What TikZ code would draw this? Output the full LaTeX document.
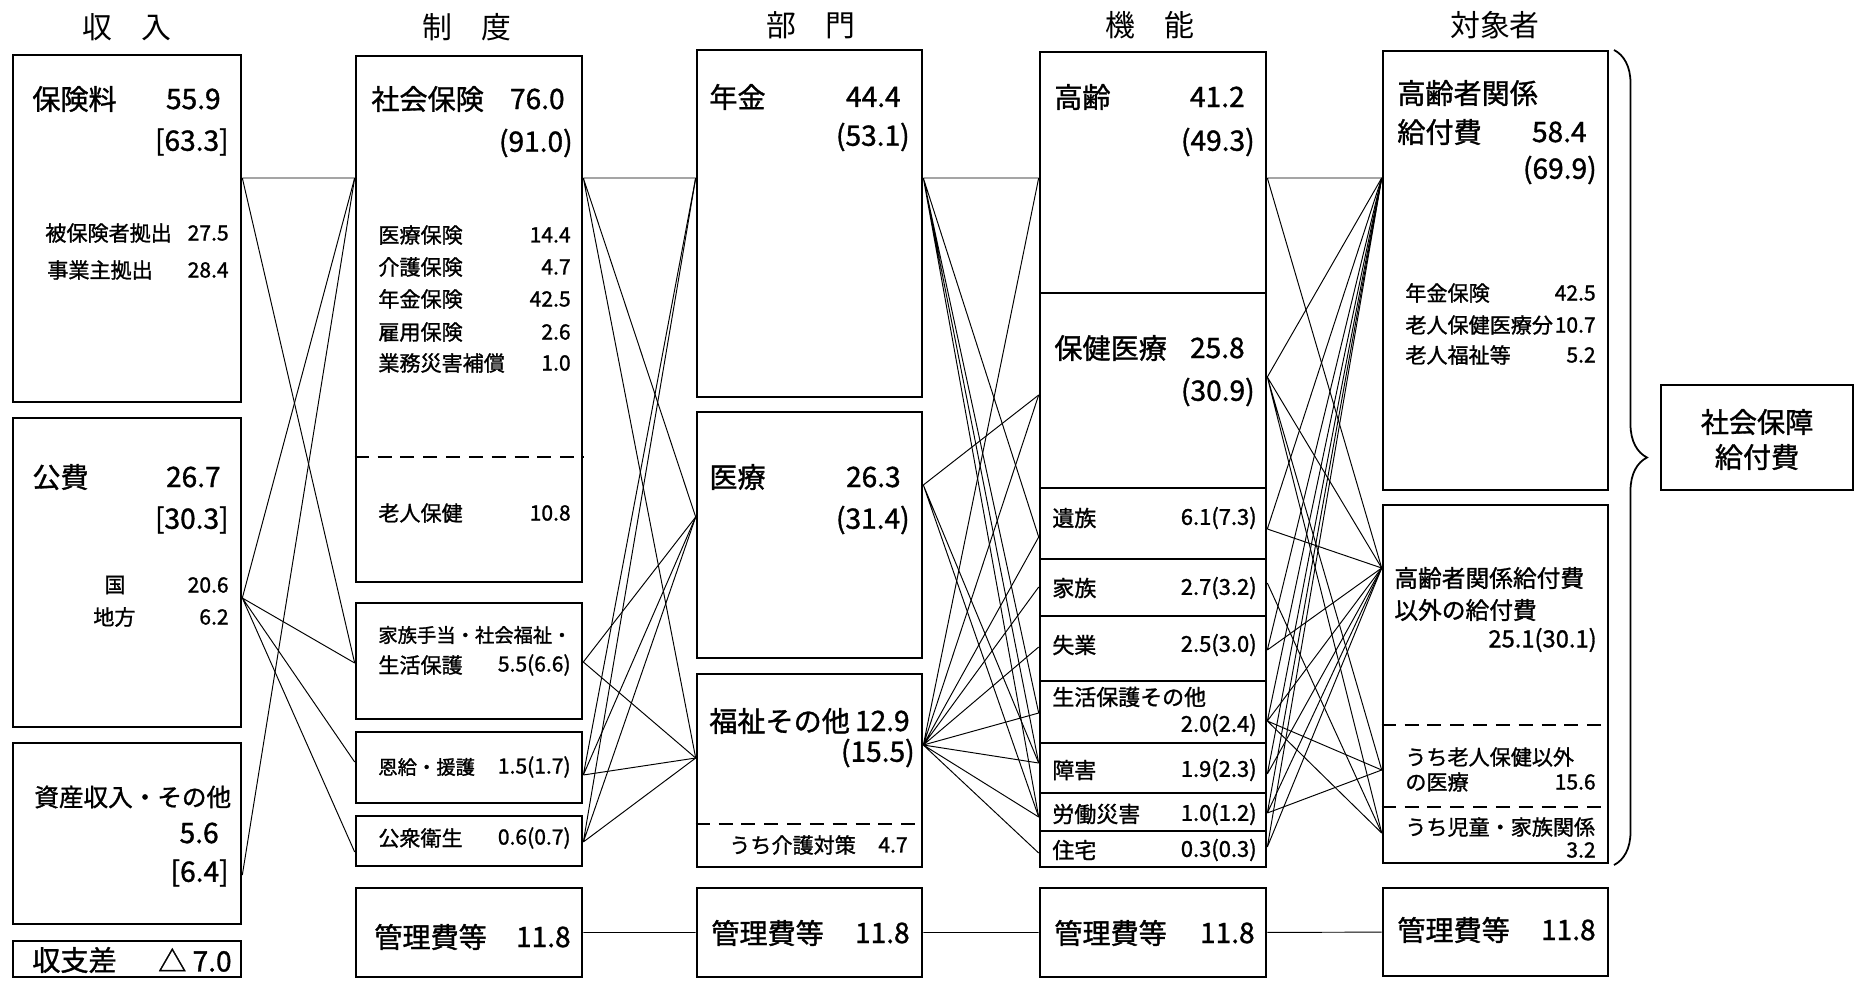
\documentclass[tikz,border=0pt]{standalone}
\usepackage{fontspec}
\setmainfont{Noto Sans CJK JP}
\newfontfamily\heavyfont[FakeBold=1.2]{Noto Sans CJK JP}
\usepackage{tikz}
\usetikzlibrary{fit,decorations.pathreplacing}

\begin{document}
\begin{tikzpicture}[x=0.02cm, y=-0.02cm,
    box/.style={draw, line width=1.5pt, inner sep=0pt},
    part/.style={line width=1.4pt, dash pattern=on 8pt off 5pt},
    link/.style={line width=0.55pt},
    head/.style={font=\fontsize{17}{20}\selectfont, inner sep=0pt},
    big/.style={font=\heavyfont\fontsize{16}{19}\selectfont, inner sep=0pt},
    mid/.style={font=\heavyfont\fontsize{12.5}{15}\selectfont, inner sep=0pt},
    small/.style={font=\heavyfont\fontsize{12}{14}\selectfont, inner sep=0pt},
    tiny/.style={font=\heavyfont\fontsize{11}{13}\selectfont, inner sep=0pt},
    lt/.style={anchor=west}, rt/.style={anchor=east}]
    \useasboundingbox (0,0) rectangle (1858,980);

    % Draw the column headings
    \node[head] (h-income) at (127,27) {収　入};
    \node[head] (h-system) at (467,27) {制　度};
    \node[head] (h-sector) at (811,25) {部　門};
    \node[head] (h-func) at (1150,25) {機　能};
    \node[head] (h-target) at (1495,25) {対象者};

    % Draw the income boxes
    \node[box, fit={(13,55) (241,402)}] (premium) {};
    \node[box, fit={(13,418) (241,727)}] (public) {};
    \node[box, fit={(13,743) (241,924)}] (assets) {};
    \node[box, fit={(13,941) (241,977)}] (balance) {};
    \node[big, lt] (premium-a) at (32,99) {保険料};
    \node[big, rt] (premium-b) at (221,99) {55.9};
    \node[big, rt] (premium-c) at (229,142) {[63.3]};
    \node[small, lt] (premium-d) at (45,233) {被保険者拠出};
    \node[small, rt] (premium-e) at (229,233) {27.5};
    \node[small, lt] (premium-f) at (47,270) {事業主拠出};
    \node[small, rt] (premium-g) at (229,270) {28.4};
    \node[big, lt] (public-a) at (32,477) {公費};
    \node[big, rt] (public-b) at (221,477) {26.7};
    \node[big, rt] (public-c) at (229,520) {[30.3]};
    \node[small] (public-d) at (115,585) {国};
    \node[small, rt] (public-e) at (229,585) {20.6};
    \node[small, lt] (public-f) at (93,617) {地方};
    \node[small, rt] (public-g) at (229,617) {6.2};
    \node[big, lt, font=\heavyfont\fontsize{14}{16}\selectfont] (assets-a) at (34,797) {資産収入・その他};
    \node[big, rt] (assets-b) at (219,833) {5.6};
    \node[big, rt] (assets-c) at (229,873) {[6.4]};
    \node[big, lt] (balance-a) at (32,960) {収支差};
    \node[big, rt] (balance-b) at (232,960) {△ 7.0};

    % Draw the system boxes
    \node[box, fit={(356,56) (582,582)}] (social) {};
    \node[box, fit={(356,603) (582,719)}] (family) {};
    \node[box, fit={(356,732) (582,803)}] (veteran) {};
    \node[box, fit={(356,816) (582,866)}] (hygiene) {};
    \node[box, fit={(356,888) (582,977)}] (admin1) {};
    \draw[part] (social.west |- 0,457) -- (social.east |- 0,457);
    \node[big, lt] (social-a) at (371,99) {社会保険};
    \node[big, rt] (social-b) at (565,99) {76.0};
    \node[big, rt] (social-c) at (573,143) {(91.0)};
    \node[small, lt] (social-d) at (378,235) {医療保険};
    \node[small, rt] (social-e) at (571,235) {14.4};
    \node[small, lt] (social-f) at (378,267) {介護保険};
    \node[small, rt] (social-g) at (571,267) {4.7};
    \node[small, lt] (social-h) at (378,299) {年金保険};
    \node[small, rt] (social-i) at (571,299) {42.5};
    \node[small, lt] (social-j) at (378,332) {雇用保険};
    \node[small, rt] (social-k) at (571,332) {2.6};
    \node[small, lt] (social-l) at (378,363) {業務災害補償};
    \node[small, rt] (social-m) at (571,363) {1.0};
    \node[small, lt] (social-n) at (378,513) {老人保健};
    \node[small, rt] (social-o) at (571,513) {10.8};
    \node[tiny, lt] (family-a) at (378,635) {家族手当・社会福祉・};
    \node[small, lt] (family-b) at (378,665) {生活保護};
    \node[small, rt] (family-c) at (571,665) {5.5(6.6)};
    \node[tiny, lt] (veteran-a) at (378,767) {恩給・援護};
    \node[small, rt] (veteran-b) at (571,767) {1.5(1.7)};
    \node[small, lt] (hygiene-a) at (378,838) {公衆衛生};
    \node[small, rt] (hygiene-b) at (571,838) {0.6(0.7)};
    \node[big, lt] (admin1-a) at (374,937) {管理費等};
    \node[big, rt] (admin1-b) at (571,937) {11.8};

    % Draw the sector boxes
    \node[box, fit={(697,50) (922,397)}] (pension) {};
    \node[box, fit={(697,412) (922,658)}] (medical) {};
    \node[box, fit={(697,674) (922,867)}] (welfare) {};
    \node[box, fit={(697,888) (922,977)}] (admin2) {};
    \draw[part] (welfare.west |- 0,824) -- (welfare.east |- 0,824);
    \node[big, lt] (pension-a) at (709,97) {年金};
    \node[big, rt] (pension-b) at (901,97) {44.4};
    \node[big, rt] (pension-c) at (910,137) {(53.1)};
    \node[big, lt] (medical-a) at (709,477) {医療};
    \node[big, rt] (medical-b) at (901,477) {26.3};
    \node[big, rt] (medical-c) at (910,520) {(31.4)};
    \node[big, lt] (welfare-a) at (709,721) {福祉その他};
    \node[big, rt] (welfare-b) at (910,721) {12.9};
    \node[big, rt] (welfare-c) at (915,753) {(15.5)};
    \node[small, lt] (welfare-d) at (729,845) {うち介護対策};
    \node[small, rt] (welfare-e) at (908,845) {4.7};
    \node[big, lt] (admin2-a) at (711,933) {管理費等};
    \node[big, rt] (admin2-b) at (910,933) {11.8};

    % Draw the function boxes
    \node[box, fit={(1040,52) (1266,293)}] (aged) {};
    \node[box, fit={(1040,293) (1266,488)}] (health) {};
    \node[box, fit={(1040,488) (1266,559)}] (survivor) {};
    \node[box, fit={(1040,559) (1266,616)}] (household) {};
    \node[box, fit={(1040,616) (1266,681)}] (jobless) {};
    \node[box, fit={(1040,681) (1266,743)}] (assist) {};
    \node[box, fit={(1040,743) (1266,793)}] (disabled) {};
    \node[box, fit={(1040,793) (1266,831)}] (injury) {};
    \node[box, fit={(1040,831) (1266,867)}] (housing) {};
    \node[box, fit={(1040,888) (1266,977)}] (admin3) {};
    \node[big, lt] (aged-a) at (1054,97) {高齢};
    \node[big, rt] (aged-b) at (1245,97) {41.2};
    \node[big, rt] (aged-c) at (1255,142) {(49.3)};
    \node[big, lt] (health-a) at (1054,348) {保健医療};
    \node[big, rt] (health-b) at (1245,348) {25.8};
    \node[big, rt] (health-c) at (1255,392) {(30.9)};
    \node[mid, lt] (survivor-a) at (1052,518) {遺族};
    \node[mid, rt] (survivor-b) at (1257,518) {6.1(7.3)};
    \node[mid, lt] (household-a) at (1052,588) {家族};
    \node[mid, rt] (household-b) at (1257,588) {2.7(3.2)};
    \node[mid, lt] (jobless-a) at (1052,645) {失業};
    \node[mid, rt] (jobless-b) at (1257,645) {2.5(3.0)};
    \node[mid, lt] (assist-a) at (1052,697) {生活保護その他};
    \node[mid, rt] (assist-b) at (1257,725) {2.0(2.4)};
    \node[mid, lt] (disabled-a) at (1052,770) {障害};
    \node[mid, rt] (disabled-b) at (1257,770) {1.9(2.3)};
    \node[mid, lt] (injury-a) at (1052,814) {労働災害};
    \node[mid, rt] (injury-b) at (1257,814) {1.0(1.2)};
    \node[mid, lt] (housing-a) at (1052,850) {住宅};
    \node[mid, rt] (housing-b) at (1257,850) {0.3(0.3)};
    \node[big, lt] (admin3-a) at (1054,933) {管理費等};
    \node[big, rt] (admin3-b) at (1255,933) {11.8};

    % Draw the target boxes
    \node[box, fit={(1383,51) (1608,490)}] (elder) {};
    \node[box, fit={(1383,505) (1608,863)}] (other) {};
    \node[box, fit={(1383,888) (1608,976)}] (admin4) {};
    \node[box, fit={(1661,385) (1853,490)}] (total) {};
    \draw[part] (other.west |- 0,725) -- (other.east |- 0,725);
    \draw[part] (other.west |- 0,807) -- (other.east |- 0,807);
    \node[big, lt] (elder-a) at (1397,93) {高齢者関係};
    \node[big, lt] (elder-b) at (1397,132) {給付費};
    \node[big, rt] (elder-c) at (1587,132) {58.4};
    \node[big, rt] (elder-d) at (1597,170) {(69.9)};
    \node[small, lt] (elder-e) at (1405,293) {年金保険};
    \node[small, rt] (elder-f) at (1596,293) {42.5};
    \node[small, lt] (elder-g) at (1405,325) {老人保健医療分};
    \node[small, rt] (elder-h) at (1596,325) {10.7};
    \node[small, lt] (elder-i) at (1405,355) {老人福祉等};
    \node[small, rt] (elder-j) at (1596,355) {5.2};
    \node[mid, lt, font=\heavyfont\fontsize{13.5}{16}\selectfont] (other-a) at (1394,578) {高齢者関係給付費};
    \node[mid, lt, font=\heavyfont\fontsize{13.5}{16}\selectfont] (other-b) at (1394,610) {以外の給付費};
    \node[mid, rt, font=\heavyfont\fontsize{13.5}{16}\selectfont] (other-c) at (1597,640) {25.1(30.1)};
    \node[small, lt] (other-d) at (1405,757) {うち老人保健以外};
    \node[small, lt] (other-e) at (1405,782) {の医療};
    \node[small, rt] (other-f) at (1596,782) {15.6};
    \node[small, lt] (other-g) at (1405,827) {うち児童・家族関係};
    \node[small, rt] (other-h) at (1596,850) {3.2};
    \node[big, lt] (admin4-a) at (1397,930) {管理費等};
    \node[big, rt] (admin4-b) at (1596,930) {11.8};
    \node[big] (total-a) at (1757,422) {社会保障};
    \node[big] (total-b) at (1757,457) {給付費};

    % Draw the brace over the target boxes
    \coordinate (brace-top) at (1614,50);
    \coordinate (brace-bot) at (1614,865);
    \draw[line width=1pt, decorate, decoration={brace, amplitude=0.66cm}] (brace-top) -- (brace-bot);

    % Connection points on the box sides
    \coordinate (premium-r) at (premium.east |- 0,178);
    \coordinate (public-r) at (public.east |- 0,598);
    \coordinate (assets-r) at (assets.east |- 0,875);
    \coordinate (social-l) at (social.west |- 0,178);
    \coordinate (social-r) at (social.east |- 0,178);
    \coordinate (family-l) at (family.west |- 0,663);
    \coordinate (family-r) at (family.east |- 0,662);
    \coordinate (veteran-l) at (veteran.west |- 0,762);
    \coordinate (veteran-r) at (veteran.east |- 0,775);
    \coordinate (hygiene-l) at (hygiene.west |- 0,852);
    \coordinate (hygiene-r) at (hygiene.east |- 0,842);
    \coordinate (pension-l) at (pension.west |- 0,178);
    \coordinate (pension-r) at (pension.east |- 0,178);
    \coordinate (medical-l) at (medical.west |- 0,517);
    \coordinate (medical-r) at (medical.east |- 0,485);
    \coordinate (welfare-l) at (welfare.west |- 0,758);
    \coordinate (welfare-r) at (welfare.east |- 0,745);
    \coordinate (aged-l) at (aged.west |- 0,178);
    \coordinate (aged-r) at (aged.east |- 0,178);
    \coordinate (health-l) at (health.west |- 0,395);
    \coordinate (health-r) at (health.east |- 0,377);
    \coordinate (survivor-l) at (survivor.west |- 0,537);
    \coordinate (survivor-r) at (survivor.east |- 0,529);
    \coordinate (household-l) at (household.west |- 0,587);
    \coordinate (household-r) at (household.east |- 0,583);
    \coordinate (jobless-l) at (jobless.west |- 0,647);
    \coordinate (jobless-r) at (jobless.east |- 0,650);
    \coordinate (assist-l) at (assist.west |- 0,713);
    \coordinate (assist-r) at (assist.east |- 0,721);
    \coordinate (disabled-l) at (disabled.west |- 0,763);
    \coordinate (disabled-r) at (disabled.east |- 0,774);
    \coordinate (injury-l) at (injury.west |- 0,817);
    \coordinate (injury-r) at (injury.east |- 0,813);
    \coordinate (housing-l) at (housing.west |- 0,853);
    \coordinate (housing-r) at (housing.east |- 0,847);
    \coordinate (elder-l) at (elder.west |- 0,178);
    \coordinate (other-l) at (other.west |- 0,568);
    \coordinate (oldmed-l) at (other.west |- 0,770);
    \coordinate (child-l) at (other.west |- 0,833);

    % Draw lines from income to system
    \draw[link] (premium-r) -- (social-l) (premium-r) -- (family-l);
    \draw[link] (public-r) -- (social-l) (public-r) -- (family-l) (public-r) -- (veteran-l) (public-r) -- (hygiene-l);
    \draw[link] (assets-r) -- (social-l);

    % Draw lines from system to sector
    \draw[link] (social-r) -- (pension-l) (social-r) -- (medical-l) (social-r) -- (welfare-l);
    \draw[link] (family-r) -- (medical-l) (family-r) -- (welfare-l);
    \draw[link] (veteran-r) -- (pension-l) (veteran-r) -- (medical-l) (veteran-r) -- (welfare-l);
    \draw[link] (hygiene-r) -- (pension-l) (hygiene-r) -- (medical-l) (hygiene-r) -- (welfare-l);

    % Draw lines from sector to function
    \draw[link] (pension-r) -- (aged-l) (pension-r) -- (survivor-l) (pension-r) -- (assist-l) (pension-r) -- (disabled-l) (pension-r) -- (injury-l);
    \draw[link] (medical-r) -- (health-l) (medical-r) -- (disabled-l) (medical-r) -- (injury-l);
    \draw[link] (welfare-r) -- (aged-l) (welfare-r) -- (health-l) (welfare-r) -- (survivor-l) (welfare-r) -- (household-l) (welfare-r) -- (jobless-l);
    \draw[link] (welfare-r) -- (assist-l) (welfare-r) -- (disabled-l) (welfare-r) -- (injury-l) (welfare-r) -- (housing-l);

    % Draw lines from function to target
    \draw[link] (aged-r) -- (elder-l) (aged-r) -- (other-l);
    \draw[link] (health-r) -- (elder-l) (health-r) -- (other-l) (health-r) -- (oldmed-l) (health-r) -- (child-l);
    \draw[link] (survivor-r) -- (elder-l) (survivor-r) -- (other-l);
    \draw[link] (household-r) -- (child-l);
    \draw[link] (jobless-r) -- (elder-l) (jobless-r) -- (other-l);
    \draw[link] (assist-r) -- (elder-l) (assist-r) -- (other-l) (assist-r) -- (oldmed-l) (assist-r) -- (child-l);
    \draw[link] (disabled-r) -- (elder-l) (disabled-r) -- (other-l);
    \draw[link] (injury-r) -- (elder-l) (injury-r) -- (other-l) (injury-r) -- (oldmed-l);
    \draw[link] (housing-r) -- (elder-l) (housing-r) -- (other-l);

    % Draw the administration chain
    \draw[link] (admin1) -- (admin2) (admin2) -- (admin3) (admin3) -- (admin4);
\end{tikzpicture}
\end{document}
